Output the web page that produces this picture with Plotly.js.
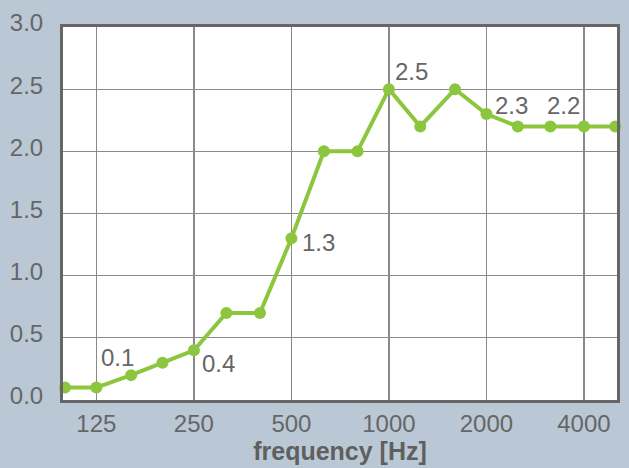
<!DOCTYPE html>
<html>
<head>
<meta charset="utf-8">
<script src="https://cdn.plot.ly/plotly-3.0.1.min.js"></script>
<style>html,body{margin:0;padding:0;background:#b9c8d4;}#chart{width:629px;height:468px;}</style>
</head>
<body>
<div id="chart"></div>
<script>
// Data (1/3-octave band sound absorption)
const frequencies = [100, 125, 160, 200, 250, 315, 400, 500, 630, 800, 1000, 1250, 1600, 2000, 2500, 3150, 4000, 5000];
const absorption  = [0.1, 0.1, 0.2, 0.3, 0.4, 0.7, 0.7, 1.3, 2.0, 2.0, 2.5, 2.2, 2.5, 2.3, 2.2, 2.2, 2.2, 2.2];
const xTickVals   = [125, 250, 500, 1000, 2000, 4000];
const xTickText   = ['125', '250', '500', '1000', '2000', '4000'];
const labelIndices = [1, 4, 7, 10, 13, 15];

// label offsets (px) per labelled point: [xshift, yshift]
const labelOffsets = [[3, 30], [6, -13], [9, -4], [4, 18], [7, 9], [-5, 21]];

const fontFam = '"Liberation Sans", Arial, sans-serif';
const textColor = '#666666';
const green = '#8cc63f';

const annotations = labelIndices.map((i, k) => ({
  x: Math.log10(frequencies[i]),
  y: absorption[i],
  xref: 'x', yref: 'y',
  text: absorption[i].toFixed(1),
  showarrow: false,
  xanchor: 'left', yanchor: 'middle',
  xshift: labelOffsets[k][0], yshift: labelOffsets[k][1],
  font: {family: fontFam, size: 24, color: textColor}
}));

const trace = {
  x: frequencies,
  y: absorption,
  type: 'scatter',
  mode: 'lines+markers',
  line: {color: green, width: 4},
  marker: {color: green, size: 12},
  cliponaxis: false,
  hoverinfo: 'skip'
};

const layout = {
  width: 629, height: 468,
  paper_bgcolor: '#b9c8d4',
  plot_bgcolor: '#ffffff',
  margin: {l: 63, r: 12, t: 27, b: 68, pad: 0},
  showlegend: false,
  font: {family: fontFam, size: 24, color: textColor},
  xaxis: {
    type: 'log',
    range: [Math.log10(98.6), Math.log10(5060)],
    tickmode: 'array',
    tickvals: xTickVals,
    ticktext: xTickText,
    showgrid: true, gridcolor: '#8a8a8a', gridwidth: 1.3,
    showline: true, mirror: true, linecolor: '#666666', linewidth: 3,
    zeroline: false,
    ticks: '', ticklabelstandoff: 0,
    tickfont: {family: fontFam, size: 24, color: textColor},
    title: {text: 'frequency [Hz]', standoff: 6,
            font: {family: '"Liberation Sans", Arial, sans-serif', size: 25, color: '#5f5f5f', weight: 'bold'}}
  },
  yaxis: {
    range: [0, 3],
    dtick: 0.5,
    tickformat: '.1f',
    showgrid: true, gridcolor: '#8a8a8a', gridwidth: 1.3,
    showline: true, mirror: true, linecolor: '#666666', linewidth: 3,
    zeroline: false,
    ticks: '', ticklabelstandoff: 12, ticklabelshift: -4,
    tickfont: {family: fontFam, size: 24, color: textColor}
  },
  annotations: annotations
};

Plotly.newPlot('chart', [trace], layout, {displayModeBar: false, staticPlot: true});
</script>
</body>
</html>
